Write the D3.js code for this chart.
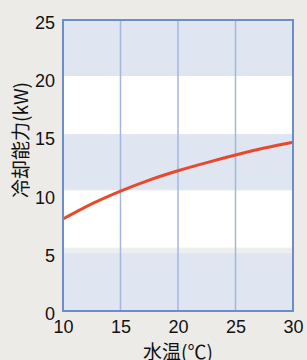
<!DOCTYPE html>
<html>
<head>
<meta charset="utf-8">
<script src="https://cdn.jsdelivr.net/npm/d3@7"></script>
<style>
  html, body { margin: 0; padding: 0; background: #edebe8; }
  svg { display: block; }
</style>
</head>
<body>
<div id="chart"></div>
<script>
// water temperature (°C) vs cooling capacity (kW)
const waterTemp = [10, 12.5, 15, 17.5, 20, 22.5, 25, 27.5, 30];
const capacity = [7.9, 9.2, 10.3, 11.25, 12.05, 12.75, 13.4, 14.0, 14.5];

const xTicks = [10, 15, 20, 25, 30];
const yTicks = [0, 5, 10, 15, 20, 25];

// shaded horizontal bands (in kW)
const bandLow = [0, 10.37, 20.19];
const bandHigh = [5, 15.2, 25];
// thin grey strip above the bottom band
const stripLow = [5];
const stripHigh = [5.44];

const width = 307, height = 360;
const margin = {top: 20, right: 14, bottom: 49, left: 63};

const svg = d3.select("#chart").append("svg")
    .attr("width", width)
    .attr("height", height);

const innerW = width - margin.left - margin.right;
const innerH = height - margin.top - margin.bottom;

const x = d3.scaleLinear().domain([10, 30]).range([0, innerW]);
const y = d3.scaleLinear().domain([0, 25]).range([innerH, 0]);

const chart = svg.append("g")
    .attr("transform", `translate(${margin.left},${margin.top})`);

// plot background
chart.append("rect")
    .attr("width", innerW)
    .attr("height", innerH)
    .attr("fill", "#ffffff");

chart.selectAll(".band")
    .data(bandLow)
    .join("rect")
    .attr("class", "band")
    .attr("x", 0)
    .attr("width", innerW)
    .attr("y", (d, i) => y(bandHigh[i]))
    .attr("height", (d, i) => y(d) - y(bandHigh[i]))
    .attr("fill", "#dfe5f1");

chart.selectAll(".strip")
    .data(stripLow)
    .join("rect")
    .attr("class", "strip")
    .attr("x", 0)
    .attr("width", innerW)
    .attr("y", (d, i) => y(stripHigh[i]))
    .attr("height", (d, i) => y(d) - y(stripHigh[i]))
    .attr("fill", "#eeeeee");

// vertical grid lines
chart.selectAll(".vgrid")
    .data(xTicks.slice(1, -1))
    .join("line")
    .attr("class", "vgrid")
    .attr("x1", d => x(d))
    .attr("x2", d => x(d))
    .attr("y1", 0)
    .attr("y2", innerH)
    .attr("stroke", "#a3b7df")
    .attr("stroke-width", 1.5);

// curve
const line = d3.line()
    .x((d, i) => x(waterTemp[i]))
    .y(d => y(d))
    .curve(d3.curveMonotoneX);

chart.append("path")
    .datum(capacity)
    .attr("d", line)
    .attr("fill", "none")
    .attr("stroke", "#e8482b")
    .attr("stroke-width", 3);

// frame
chart.append("rect")
    .attr("width", innerW)
    .attr("height", innerH)
    .attr("fill", "none")
    .attr("stroke", "#6b8dca")
    .attr("stroke-width", 2);

// axes (labels only)
const xAxis = d3.axisBottom(x).tickValues(xTicks).tickSize(0).tickPadding(9);
const yAxis = d3.axisLeft(y).tickValues(yTicks).tickSize(0).tickPadding(8);

const xAxisG = chart.append("g")
    .attr("transform", `translate(0,${innerH})`)
    .call(xAxis);
const yAxisG = chart.append("g").call(yAxis);

[xAxisG, yAxisG].forEach(g => {
    g.select(".domain").remove();
    g.selectAll("text")
        .attr("fill", "#111")
        .style("font-family", "'Liberation Sans', Arial, sans-serif")
        .style("font-size", "18px");
});
yAxisG.selectAll("text").attr("dy", "0.47em");

// axis titles
svg.append("text")
    .attr("x", margin.left + innerW / 2)
    .attr("y", 359)
    .attr("text-anchor", "middle")
    .attr("fill", "#111")
    .style("font-family", "'Noto Sans CJK JP', sans-serif")
    .style("font-size", "19px")
    .text("水温(℃)");

svg.append("text")
    .attr("transform", `translate(28,140) rotate(-90)`)
    .attr("text-anchor", "middle")
    .attr("fill", "#111")
    .style("font-family", "'Noto Sans CJK JP', sans-serif")
    .style("font-size", "19px")
    .text("冷却能力(kW)");
</script>
</body>
</html>
